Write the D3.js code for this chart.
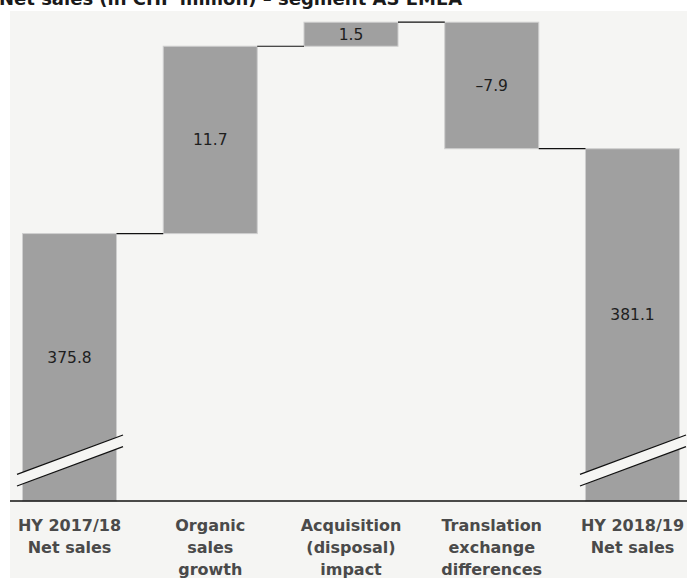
<!DOCTYPE html>
<html>
<head>
<meta charset="utf-8">
<script src="https://cdn.jsdelivr.net/npm/d3@7/dist/d3.min.js"></script>
<style>
  html, body { margin: 0; padding: 0; background: #ffffff; }
  svg { display: block; }
</style>
</head>
<body>
<svg id="chart" width="687" height="578"></svg>
<script>
// ---- data ----
const title = "Net sales (in CHF million) – segment AS EMEA";
const categories = ["HY 2017/18 Net sales", "Organic sales growth", "Acquisition (disposal) impact", "Translation exchange differences", "HY 2018/19 Net sales"];
const categoryLines = [["HY 2017/18", "Net sales"], ["Organic", "sales", "growth"], ["Acquisition", "(disposal)", "impact"], ["Translation", "exchange", "differences"], ["HY 2018/19", "Net sales"]];
const values = [375.8, 11.7, 1.5, -7.9, 381.1];
const barTypes = ["total", "delta", "delta", "delta", "total"];
const valueLabels = ["375.8", "11.7", "1.5", "–7.9", "381.1"];
const yDomain = [359.1, 389.7];

// ---- layout ----
const W = 687, H = 578;
const panel = { x: 10, y: 11 };
const axisY = 501;

const svg = d3.select("#chart");

const x = d3.scaleBand()
  .domain(categories)
  .range([10, 692])
  .paddingInner(0.332)
  .paddingOuter(0.0888);

const y = d3.scaleLinear().domain(yDomain).range([axisY, panel.y]);

// compute waterfall
let running = 0;
const bars = categories.map((c, i) => {
  let lo, hi, end;
  if (barTypes[i] === "total") {
    lo = yDomain[0]; hi = values[i]; end = values[i];
  } else {
    const start = running;
    end = running + values[i];
    lo = Math.min(start, end); hi = Math.max(start, end);
  }
  running = end;
  return { c, i, lo, hi, end, type: barTypes[i] };
});

// panel background
svg.append("rect")
  .attr("x", panel.x).attr("y", panel.y)
  .attr("width", W - panel.x).attr("height", H - panel.y)
  .attr("fill", "#f5f5f3");

// title (partly cut at the top like the reference)
svg.append("text")
  .attr("x", -1).attr("y", 5)
  .attr("font-family", "DejaVu Sans, sans-serif")
  .attr("font-weight", "bold")
  .attr("font-size", 18)
  .attr("fill", "#1a1a1a")
  .text(title);

// bars
svg.append("g").selectAll("rect")
  .data(bars).join("rect")
  .attr("x", d => x(d.c))
  .attr("y", d => y(d.hi))
  .attr("width", x.bandwidth())
  .attr("height", d => y(d.lo) - y(d.hi))
  .attr("fill", "#a0a0a0")
  .attr("stroke", "#cfcfcf")
  .attr("stroke-width", 1);

// connectors
const conn = bars.slice(0, -1).map((d, i) => ({ x1: x(d.c) + x.bandwidth(), x2: x(bars[i + 1].c), v: d.end }));
svg.append("g").selectAll("line")
  .data(conn).join("line")
  .attr("x1", d => d.x1).attr("x2", d => d.x2)
  .attr("y1", d => y(d.v)).attr("y2", d => y(d.v))
  .attr("stroke", "#111").attr("stroke-width", 1.2);

// break marks on total bars
const totals = bars.filter(d => d.type === "total");
const bg = svg.append("g");
totals.forEach(d => {
  const xl = x(d.c) - 5.5, xr = x(d.c) + x.bandwidth() + 6.5;
  const uL = axisY - 26.7, uR = axisY - 66, lL = axisY - 15, lR = axisY - 54.3;
  bg.append("path")
    .attr("d", `M${xl},${uL} L${xr},${uR} L${xr},${lR} L${xl},${lL} Z`)
    .attr("fill", "#f5f5f3");
  bg.append("line").attr("x1", xl).attr("y1", uL).attr("x2", xr).attr("y2", uR)
    .attr("stroke", "#111").attr("stroke-width", 1.3);
  bg.append("line").attr("x1", xl).attr("y1", lL).attr("x2", xr).attr("y2", lR)
    .attr("stroke", "#111").attr("stroke-width", 1.3);
});

// value labels
svg.append("g").selectAll("text")
  .data(bars).join("text")
  .attr("x", d => x(d.c) + x.bandwidth() / 2)
  .attr("y", d => {
    const mid = (y(d.lo) + y(d.hi)) / 2;
    return d.type === "total" ? mid - 10 : mid;
  })
  .attr("dy", "0.36em")
  .attr("text-anchor", "middle")
  .attr("font-family", "DejaVu Sans, sans-serif")
  .attr("font-size", 15.5)
  .attr("fill", "#1e1e1e")
  .text((d, i) => valueLabels[i]);

// axis
const axis = d3.axisBottom(x).tickSize(0).tickFormat(() => "");
const gAxis = svg.append("g").attr("transform", `translate(0,${axisY})`).call(axis);
gAxis.select(".domain").remove();
gAxis.append("line").attr("x1", panel.x).attr("x2", W).attr("y1", 0).attr("y2", 0)
  .attr("stroke", "#111").attr("stroke-width", 1.5);

// category labels
const lab = svg.append("g");
categories.forEach((c, i) => {
  const t = lab.append("text")
    .attr("x", x(c) + x.bandwidth() / 2)
    .attr("y", 531)
    .attr("text-anchor", "middle")
    .attr("font-family", "DejaVu Sans, sans-serif")
    .attr("font-weight", "bold")
    .attr("font-size", 16)
    .attr("fill", "#4a4a4a");
  categoryLines[i].forEach((ln, j) => {
    t.append("tspan").attr("x", x(c) + x.bandwidth() / 2).attr("dy", j === 0 ? 0 : 22).text(ln);
  });
});
</script>
</body>
</html>
